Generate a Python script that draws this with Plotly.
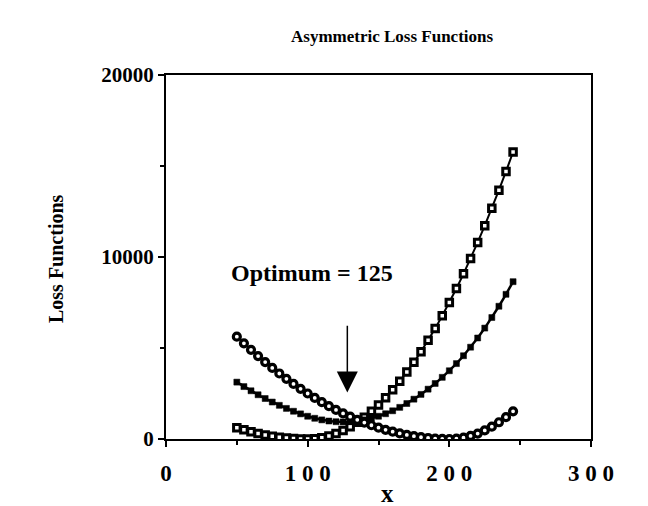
import plotly.graph_objects as go

# ---- data ----
x_vals = [50, 55, 60, 65, 70, 75, 80, 85, 90, 95,
          100, 105, 110, 115, 120, 125, 130, 135, 140, 145,
          150, 155, 160, 165, 170, 175, 180, 185, 190, 195,
          200, 205, 210, 215, 220, 225, 230, 235, 240, 245]

loss_low_target = [625, 506, 400, 306, 225, 156, 100, 56, 25, 6,
                   0, 19, 75, 169, 300, 469, 675, 919, 1200, 1519,
                   1875, 2269, 2700, 3169, 3675, 4219, 4800, 5419, 6075, 6769,
                   7500, 8269, 9075, 9919, 10800, 11719, 12675, 13669, 14700, 15769]

loss_average = [3125, 2881, 2650, 2431, 2225, 2031, 1850, 1681, 1525, 1381,
                1250, 1138, 1050, 988, 950, 938, 950, 988, 1050, 1138,
                1250, 1388, 1550, 1738, 1950, 2188, 2450, 2738, 3050, 3388,
                3750, 4144, 4575, 5044, 5550, 6094, 6675, 7294, 7950, 8644]

loss_high_target = [5625, 5256, 4900, 4556, 4225, 3906, 3600, 3306, 3025, 2756,
                    2500, 2256, 2025, 1806, 1600, 1406, 1225, 1056, 900, 756,
                    625, 506, 400, 306, 225, 156, 100, 56, 25, 6,
                    0, 19, 75, 169, 300, 469, 675, 919, 1200, 1519]

x_tick_vals = [0, 100, 200, 300]
x_tick_text = ["0", "1\u00a00\u00a00", "2\u00a00\u00a00", "3\u00a00\u00a00"]
y_tick_vals = [0, 10000, 20000]
y_tick_text = ["0", "10000", "20000"]

title_text = "Asymmetric Loss Functions"
x_title = "x"
y_title = "Loss Functions"
optimum_text = "Optimum = 125"
optimum_x = 128

FONT = "Liberation Serif"

fig = go.Figure()

fig.add_trace(go.Scatter(
    x=x_vals, y=loss_low_target, mode="lines+markers",
    line=dict(color="black", width=2),
    marker=dict(symbol="square", size=6.5, color="white",
                line=dict(color="black", width=3)),
    showlegend=False))

fig.add_trace(go.Scatter(
    x=x_vals, y=loss_average, mode="lines+markers",
    line=dict(color="black", width=2.5),
    marker=dict(symbol="square", size=6, color="black",
                line=dict(color="black", width=0.5)),
    showlegend=False))

fig.add_trace(go.Scatter(
    x=x_vals, y=loss_high_target, mode="lines+markers",
    line=dict(color="black", width=2),
    marker=dict(symbol="circle", size=7, color="white",
                line=dict(color="black", width=3.2)),
    showlegend=False))

fig.update_layout(
    width=648, height=506,
    margin=dict(l=158, r=65, t=67, b=75),
    paper_bgcolor="white", plot_bgcolor="white",
    font=dict(family=FONT, color="black"),
)

fig.update_xaxes(
    range=[0, 300], tickvals=x_tick_vals, ticktext=x_tick_text,
    ticks="outside", ticklen=6, tickwidth=1.5, tickcolor="black",
    minor=dict(dtick=50, tick0=0, ticks="outside", ticklen=4, tickcolor="black", tickwidth=1.5),
    showline=True, linecolor="black", linewidth=2, mirror=True,
    showgrid=False, zeroline=False,
    tickfont=dict(family=FONT, size=23, color="black", weight="bold"),
    ticklabelstandoff=6,
)

fig.update_yaxes(
    range=[0, 20000], tickvals=y_tick_vals, ticktext=y_tick_text,
    ticks="outside", ticklen=6, tickwidth=1.5, tickcolor="black",
    minor=dict(dtick=5000, tick0=0, ticks="outside", ticklen=4, tickcolor="black", tickwidth=1.5),
    showline=True, linecolor="black", linewidth=2, mirror=True,
    showgrid=False, zeroline=False,
    tickfont=dict(family=FONT, size=21, color="black", weight="bold"),
)

fig.add_annotation(text=title_text, xref="paper", yref="paper",
                   x=0.532, y=1.105, showarrow=False, xanchor="center", yanchor="middle",
                   font=dict(family=FONT, size=17, color="black", weight="bold"))
fig.add_annotation(text=y_title, xref="paper", yref="paper",
                   x=-0.259, y=0.497, showarrow=False, textangle=-90,
                   xanchor="center", yanchor="middle",
                   font=dict(family=FONT, size=20, color="black", weight="bold"))
fig.add_annotation(text=x_title, xref="paper", yref="paper",
                   x=0.522, y=-0.150, showarrow=False, xanchor="center", yanchor="middle",
                   font=dict(family=FONT, size=25, color="black", weight="bold"))
fig.add_annotation(text=optimum_text, xref="x", yref="y",
                   x=103, y=9100, showarrow=False, xanchor="center", yanchor="middle",
                   font=dict(family=FONT, size=24, color="black", weight="bold"))
fig.add_annotation(text="", xref="x", yref="y", x=optimum_x, y=2550,
                   axref="x", ayref="y", ax=optimum_x, ay=6300,
                   showarrow=True, arrowhead=2, arrowsize=2.8, arrowwidth=1.5,
                   arrowcolor="black")

fig.write_html("out.html")
